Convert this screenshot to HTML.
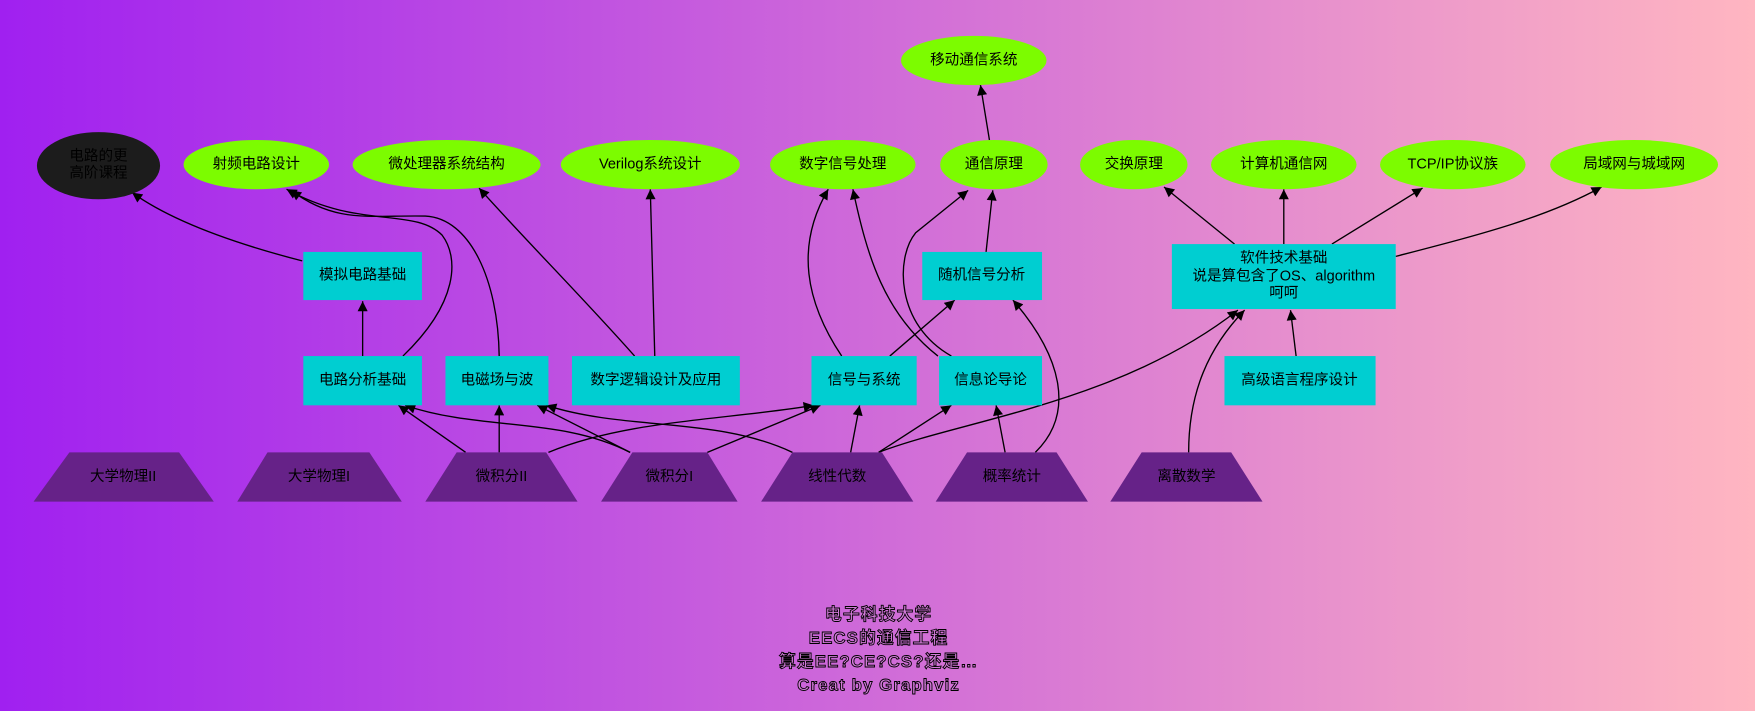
<!DOCTYPE html>
<html><head><meta charset="utf-8"><style>
html,body{margin:0;padding:0;width:1755px;height:711px;overflow:hidden}
svg{display:block}
text{font-family:"Liberation Sans","WenQuanYi Zen Hei","Noto Sans CJK SC",sans-serif;font-size:13px;fill:#000;text-anchor:middle;dominant-baseline:central}
.e{fill:none;stroke:#000;stroke-width:1.2}
.ft{font-size:15px;font-weight:bold;fill:#d27ad8;stroke:#000;stroke-width:0.8;letter-spacing:1px}
</style></head><body>
<svg width="1755" height="711" viewBox="0 0 1568 635" preserveAspectRatio="none">
<defs>
<linearGradient id="bg" x1="0" x2="1" y1="0" y2="0"><stop offset="0" stop-color="#a020f0"/><stop offset="1" stop-color="#ffb6c1"/></linearGradient>
<marker id="a" viewBox="0 0 10 10" refX="10" refY="5" markerWidth="10" markerHeight="9" markerUnits="userSpaceOnUse" orient="auto"><path d="M0,0L10,5L0,10z" fill="#000"/></marker>
</defs>
<rect width="1568" height="635" fill="url(#bg)"/>
<g marker-end="url(#a)">
<path class="e" d="M270,233 C200,215 150,195 118,172"/>
<path class="e" d="M324,318 L324,269"/>
<path class="e" d="M360,318 C410,270 410,230 395,210 C370,185 320,205 256,169"/>
<path class="e" d="M446,318 C445,250 420,195 380,193 C330,192 300,200 260,170"/>
<path class="e" d="M567,318 C520,265 470,215 428,168"/>
<path class="e" d="M585,318 L581,169"/>
<path class="e" d="M752,318 C720,270 710,220 740,169"/>
<path class="e" d="M838,318 C790,280 775,230 762,169"/>
<path class="e" d="M850,318 C800,290 800,230 818,208 L865,170"/>
<path class="e" d="M881,225 L887,170"/>
<path class="e" d="M884,125 L876,76"/>
<path class="e" d="M795,318 L853,268"/>
<path class="e" d="M925,404 C960,370 950,320 905,268"/>
<path class="e" d="M1103,218 L1040,167"/>
<path class="e" d="M1147,218 L1147,169"/>
<path class="e" d="M1190,218 L1271,168"/>
<path class="e" d="M1247,229 C1320,210 1380,195 1431,167"/>
<path class="e" d="M1158,318 L1153,277"/>
<path class="e" d="M1062,404 C1062,350 1080,310 1112,277"/>
<path class="e" d="M785,404 C860,375 1000,360 1106,277"/>
<path class="e" d="M416,404 L356,362"/>
<path class="e" d="M446,404 L446,362"/>
<path class="e" d="M490,404 C560,375 650,375 727,362"/>
<path class="e" d="M632,404 L733,362"/>
<path class="e" d="M563,404 C500,372 430,385 362,362"/>
<path class="e" d="M563,404 L480,362"/>
<path class="e" d="M708,404 C640,372 560,385 488,362"/>
<path class="e" d="M760,404 L768,362"/>
<path class="e" d="M785,404 L850,362"/>
<path class="e" d="M898,404 L890,362"/>
</g>
<g fill="#7cfc00">
<ellipse cx="870" cy="54" rx="65" ry="22"/>
<ellipse cx="229" cy="147" rx="65" ry="22"/>
<ellipse cx="399" cy="147" rx="84" ry="22"/>
<ellipse cx="581" cy="147" rx="80" ry="22"/>
<ellipse cx="753" cy="147" rx="65" ry="22"/>
<ellipse cx="888" cy="147" rx="48" ry="22"/>
<ellipse cx="1013" cy="147" rx="48" ry="22"/>
<ellipse cx="1147" cy="147" rx="65" ry="22"/>
<ellipse cx="1298" cy="147" rx="65" ry="22"/>
<ellipse cx="1460" cy="147" rx="75" ry="22"/>
</g>
<ellipse cx="88" cy="148" rx="55" ry="30" fill="#1c1c1c"/>
<g fill="#00ced1">
<rect x="271" y="225" width="106" height="43"/>
<rect x="824" y="225" width="107" height="43"/>
<rect x="1047" y="218" width="200" height="58"/>
<rect x="271" y="318" width="106" height="44"/>
<rect x="398" y="318" width="92" height="44"/>
<rect x="511" y="318" width="150" height="44"/>
<rect x="725" y="318" width="94" height="44"/>
<rect x="839" y="318" width="92" height="44"/>
<rect x="1094" y="318" width="135" height="44"/>
</g>
<g fill="#662288">
<polygon points="30,448 62,404 160,404 191,448"/>
<polygon points="212,448 239,404 330,404 359,448"/>
<polygon points="380,448 408,404 488,404 516,448"/>
<polygon points="537,448 565,404 632,404 659,448"/>
<polygon points="680,448 708,404 788,404 816,448"/>
<polygon points="836,448 864,404 944,404 972,448"/>
<polygon points="992,448 1020,404 1100,404 1128,448"/>
</g>
<text x="870" y="54">移动通信系统</text>
<text x="88" y="140">电路的更</text><text x="88" y="155">高阶课程</text>
<text x="229" y="147">射频电路设计</text>
<text x="399" y="147">微处理器系统结构</text>
<text x="581" y="147">Verilog系统设计</text>
<text x="753" y="147">数字信号处理</text>
<text x="888" y="147">通信原理</text>
<text x="1013" y="147">交换原理</text>
<text x="1147" y="147">计算机通信网</text>
<text x="1298" y="147">TCP/IP协议族</text>
<text x="1460" y="147">局域网与城域网</text>
<text x="324" y="246">模拟电路基础</text>
<text x="877" y="246">随机信号分析</text>
<text x="1147" y="231">软件技术基础</text>
<text x="1147" y="247">说是算包含了OS、algorithm</text>
<text x="1147" y="262">呵呵</text>
<text x="324" y="340">电路分析基础</text>
<text x="444" y="340">电磁场与波</text>
<text x="586" y="340">数字逻辑设计及应用</text>
<text x="772" y="340">信号与系统</text>
<text x="885" y="340">信息论导论</text>
<text x="1161" y="340">高级语言程序设计</text>
<text x="110" y="426">大学物理II</text>
<text x="285" y="426">大学物理I</text>
<text x="448" y="426">微积分II</text>
<text x="598" y="426">微积分I</text>
<text x="748" y="426">线性代数</text>
<text x="904" y="426">概率统计</text>
<text x="1060" y="426">离散数学</text>
<text class="ft" x="785" y="549">电子科技大学</text>
<text class="ft" x="785" y="570">EECS的通信工程</text>
<text class="ft" x="785" y="591">算是EE?CE?CS?还是…</text>
<text class="ft" x="785" y="612">Creat by Graphviz</text>
</svg>
</body></html>
